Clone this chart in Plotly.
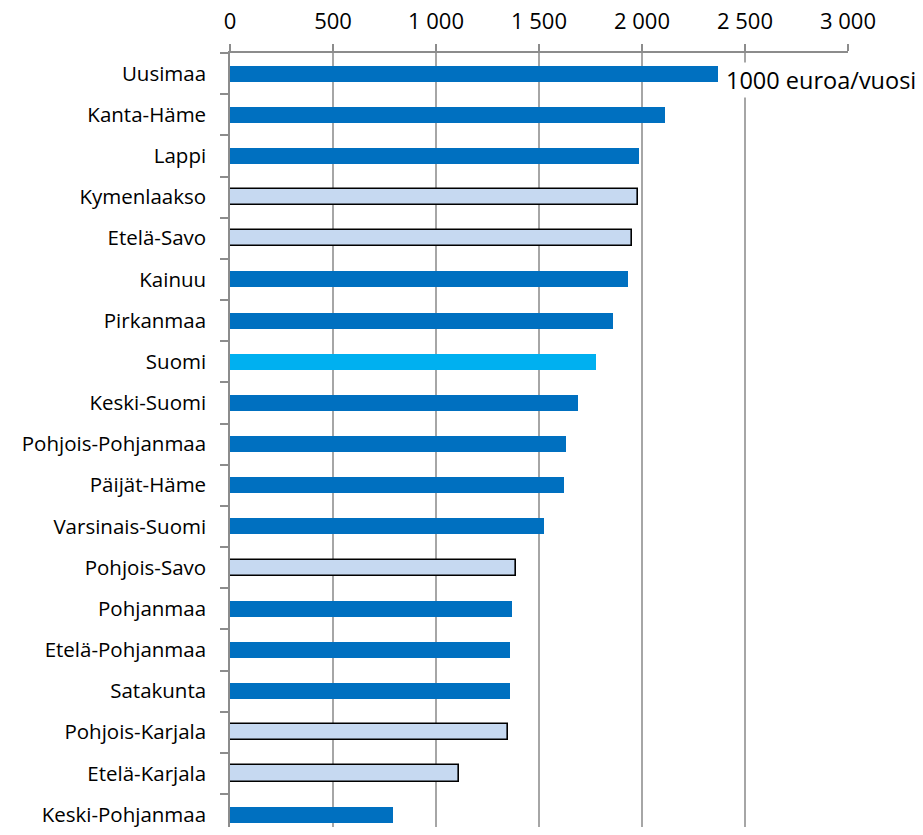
import plotly.graph_objects as go

regions = ["Uusimaa", "Kanta-Häme", "Lappi", "Kymenlaakso", "Etelä-Savo", "Kainuu",
           "Pirkanmaa", "Suomi", "Keski-Suomi", "Pohjois-Pohjanmaa", "Päijät-Häme",
           "Varsinais-Suomi", "Pohjois-Savo", "Pohjanmaa", "Etelä-Pohjanmaa",
           "Satakunta", "Pohjois-Karjala", "Etelä-Karjala", "Keski-Pohjanmaa"]
values = [2369, 2112, 1985, 1981, 1951, 1932, 1859, 1777, 1689, 1631, 1621,
          1524, 1388, 1369, 1359, 1359, 1350, 1112, 791]
group = ["a", "a", "a", "b", "b", "a", "a", "s", "a", "a", "a",
         "a", "b", "a", "a", "a", "b", "b", "a"]
tick_vals = [0, 500, 1000, 1500, 2000, 2500, 3000]
tick_text = ["0", "500", "1 000", "1 500", "2 000", "2 500", "3 000"]
unit_label = "1000 euroa/vuosi"

fill = {"a": "#0070C0", "b": "#C6D9F1", "s": "#00B0F0"}
edge = {"a": "rgba(0,0,0,0)", "b": "#000000", "s": "rgba(0,0,0,0)"}

fig = go.Figure(go.Bar(
    x=values, y=regions, orientation="h", width=0.39,
    marker=dict(color=[fill[g] for g in group],
                line=dict(color=[edge[g] for g in group],
                          width=[1.6 if g == "b" else 0 for g in group])),
))

font = "'Open Sans', sans-serif"
fig.update_layout(
    width=907, height=819,
    margin=dict(l=222, r=67, t=45, b=0),
    plot_bgcolor="white", paper_bgcolor="white",
    showlegend=False,
    font=dict(family=font, color="#000000"),
    bargap=0,
)
fig.update_xaxes(
    side="top", range=[0, 3000], tickvals=tick_vals, ticktext=tick_text,
    tickfont=dict(size=22), ticks="outside", ticklen=7, tickcolor="#8C8C8C",
    tickwidth=1.5, showline=True, linecolor="#8C8C8C", linewidth=1.5,
    showgrid=True, gridcolor="#A6A6A6", gridwidth=1.5, zeroline=False,
    ticklabelstandoff=6, automargin=False,
)
fig.update_yaxes(
    tickfont=dict(size=20.5), ticks="outside",
    tickson="boundaries", ticklen=8, tickcolor="#8C8C8C", tickwidth=1.5,
    showline=True, linecolor="#8C8C8C", linewidth=1.5, showgrid=False,
    ticklabelstandoff=18, range=[18.3, -0.5], automargin=False,
)
fig.add_annotation(
    x=2400, y=regions[0], xref="x", yref="y", text=unit_label,
    showarrow=False, xanchor="left", yanchor="middle", yshift=-6,
    font=dict(size=23.5, color="#000000"), bgcolor="white",
)
fig.write_html("out.html")
